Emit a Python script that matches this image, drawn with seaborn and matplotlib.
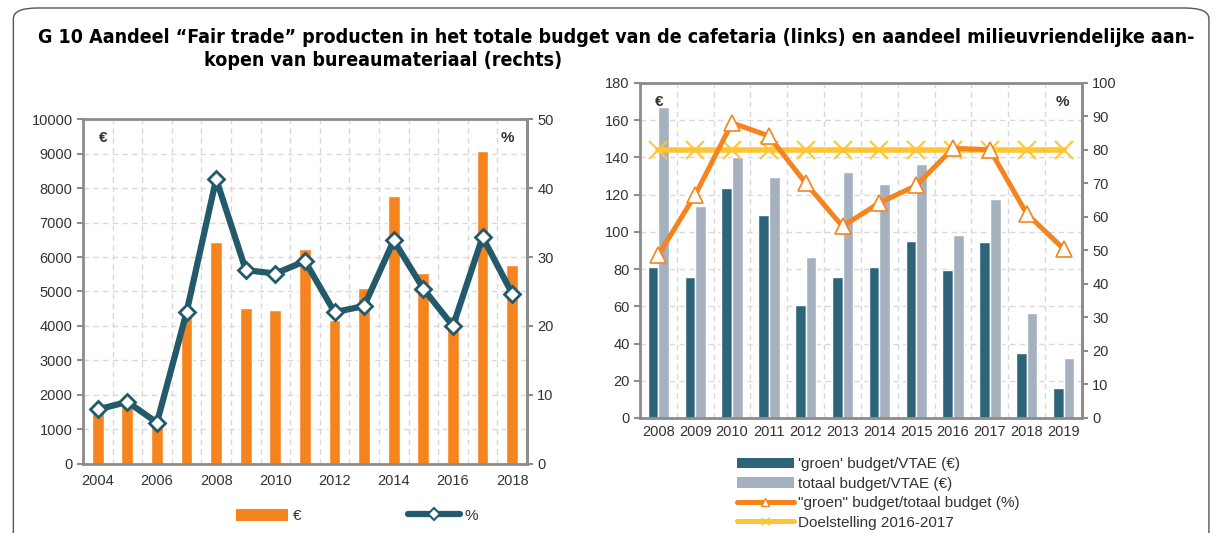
import matplotlib
matplotlib.use("Agg")
import matplotlib.pyplot as plt
from matplotlib.patches import FancyBboxPatch, Patch
from matplotlib.lines import Line2D
import numpy as np
import pandas as pd
import seaborn as sns

# left chart: fair trade share of cafetaria budget
years_l = [str(y) for y in range(2004, 2019)]
euro_l = [1600, 1700, 1200, 4460, 6430, 4530, 4460, 6220, 4170, 5110, 7770, 5550, 4280, 9070, 5770]
pct_l = [7.9, 9.0, 6.0, 22.0, 41.3, 28.1, 27.6, 29.4, 22.0, 22.9, 32.4, 25.4, 20.0, 32.9, 24.7]

# right chart: green purchases of office supplies
years_r = [str(y) for y in range(2008, 2020)]
groen_r = [81.1, 75.9, 123.6, 109.1, 60.9, 75.9, 81.1, 95.1, 79.7, 94.4, 34.9, 16.3]
totaal_r = [167.1, 113.9, 140.0, 129.5, 86.5, 132.2, 125.9, 136.4, 98.3, 117.8, 56.6, 32.0]
pct_r = [48.6, 66.6, 88.1, 84.2, 70.1, 57.2, 64.2, 69.4, 80.5, 80.1, 61.0, 50.5]
doel_r = [80] * 12

ORANGE = "#F5841F"
TEAL = "#235A6B"
DARK = "#2D6479"
GREY = "#A6B1BF"
YELLOW = "#FFC533"
SPINE = "#8C8C8C"
GRID = "#D9D9D9"
TXT = "#333333"

sns.set_style("white")
plt.rcParams["font.family"] = ["Liberation Sans", "DejaVu Sans"]
plt.rcParams["text.color"] = TXT
plt.rcParams["xtick.color"] = TXT
plt.rcParams["ytick.color"] = TXT

fig = plt.figure(figsize=(12.15, 5.33), dpi=100)

# frame round the whole figure
frame = FancyBboxPatch((0.011, -0.05), 0.984, 1.035, boxstyle="round,pad=0,rounding_size=0.02",
                       transform=fig.transFigure, fill=False, edgecolor="#555555", linewidth=1.0)
fig.patches.append(frame)

t1 = fig.text(0.031, 0.929, "G 10 Aandeel \u201cFair trade\u201d producten in het totale budget van de cafetaria (links) en aandeel milieuvriendelijke aan-",
              fontsize=13, fontweight="bold", color="black", va="center", ha="left",
              family="DejaVu Sans", fontstretch="condensed")
t2 = fig.text(0.168, 0.887, "kopen van bureaumateriaal (rechts)",
              fontsize=13, fontweight="bold", color="black", va="center", ha="left",
              family="DejaVu Sans", fontstretch="condensed")
# shrink/grow the title so its first line spans the same width as in the reference
renderer = fig.canvas.get_renderer()
w = t1.get_window_extent(renderer).width
size = min(13 * 1157 / w, 14)
t1.set_fontsize(size)
t2.set_fontsize(size)


def style_axes(ax, ax2, n):
    ax.set_xlim(-0.5, n - 0.5)
    ax.set_axisbelow(True)
    for s in ax.spines.values():
        s.set_color(SPINE)
        s.set_linewidth(2)
    for s in ax2.spines.values():
        s.set_visible(False)
    ax2.spines["right"].set_visible(True)
    ax2.spines["right"].set_color(SPINE)
    ax2.spines["right"].set_linewidth(2)
    ax.yaxis.grid(True, color=GRID, linestyle=(0, (4, 3)), linewidth=1)
    ax.set_xticks(np.arange(-0.5, n, 1.0), minor=True)
    ax.xaxis.grid(True, which="minor", color=GRID, linestyle=(0, (4, 3)), linewidth=1)
    ax.tick_params(axis="x", which="major", length=0, labelsize=10.5, pad=7)
    ax.tick_params(axis="x", which="minor", length=4, width=1.5, color=SPINE, direction="out")
    ax.tick_params(axis="y", length=4, width=1.5, color=SPINE, direction="out", labelsize=10.5, left=True)
    ax2.tick_params(axis="y", length=4, width=1.5, color=SPINE, direction="out", labelsize=10.5, right=True)
    ax.set_xlabel("")
    ax.set_ylabel("")
    ax2.set_xlabel("")
    ax2.set_ylabel("")
    ax.text(0.035, 0.965, "\u20ac", transform=ax.transAxes, fontsize=11, va="top", ha="left", fontweight="bold")
    ax2.text(0.97, 0.965, "%", transform=ax2.transAxes, fontsize=11, va="top", ha="right", fontweight="bold")


# ---- left chart
df_l = pd.DataFrame({"jaar": years_l, "euro": euro_l, "pct": pct_l})
axl = fig.add_axes([0.0683, 0.1295, 0.3654, 0.6472])
sns.barplot(data=df_l, x="jaar", y="euro", color=ORANGE, saturation=1, width=0.4, ax=axl)
axl.set_ylim(0, 10000)
axl.set_yticks(range(0, 10001, 1000))
axl2 = axl.twinx()
sns.lineplot(data=df_l, x="jaar", y="pct", color=TEAL, linewidth=4.5, marker="D", markersize=8,
             markerfacecolor="white", markeredgecolor=TEAL, markeredgewidth=2, ax=axl2)
axl2.set_ylim(0, 50)
axl2.set_yticks(range(0, 51, 10))
style_axes(axl, axl2, len(years_l))
axl.set_xticks(range(0, len(years_l), 2))
axl.set_xticklabels(years_l[::2])

h_l = [Patch(facecolor=ORANGE, edgecolor="none"),
       Line2D([], [], color=TEAL, linewidth=4.5, marker="D", markersize=6,
              markerfacecolor="white", markeredgecolor=TEAL, markeredgewidth=1.5)]
fig.legend(h_l, ["\u20ac", "%"], loc="center", bbox_to_anchor=(0.294, 0.032), ncol=2,
           frameon=False, fontsize=11, handlelength=3.4, handleheight=0.9, columnspacing=7.0,
           handletextpad=0.3)

# ---- right chart
df_r = pd.DataFrame({"jaar": years_r * 2,
                     "waarde": groen_r + totaal_r,
                     "reeks": ["'groen' budget/VTAE (\u20ac)"] * 12 + ["totaal budget/VTAE (\u20ac)"] * 12})
df_rp = pd.DataFrame({"jaar": years_r, "pct": pct_r, "doel": doel_r})
axr = fig.add_axes([0.5267, 0.2158, 0.3638, 0.6285])
sns.barplot(data=df_r, x="jaar", y="waarde", hue="reeks", palette=[DARK, GREY], saturation=1,
            width=0.58, gap=0, legend=False, ax=axr)
axr.set_ylim(0, 180)
axr.set_yticks(range(0, 181, 20))
axr2 = axr.twinx()
sns.lineplot(data=df_rp, x="jaar", y="doel", color=YELLOW, linewidth=4, marker="x", markersize=13,
             markeredgecolor=YELLOW, markeredgewidth=1.5, ax=axr2)
sns.lineplot(data=df_rp, x="jaar", y="pct", color=ORANGE, linewidth=3.6, marker="^", markersize=12,
             markerfacecolor="white", markeredgecolor=ORANGE, markeredgewidth=1.2, ax=axr2)
axr2.set_ylim(0, 100)
axr2.set_yticks(range(0, 101, 10))
style_axes(axr, axr2, len(years_r))
axr.tick_params(axis="x", which="major", labelsize=10.5, pad=5)

h_r = [Patch(facecolor=DARK, edgecolor="none"),
       Patch(facecolor=GREY, edgecolor="none"),
       Line2D([], [], color=ORANGE, linewidth=3.6, marker="^", markersize=6,
              markerfacecolor="white", markeredgecolor=ORANGE),
       Line2D([], [], color=YELLOW, linewidth=3.6, marker="x", markersize=6,
              markeredgecolor=YELLOW)]
fig.legend(h_r, ["'groen' budget/VTAE (\u20ac)", "totaal budget/VTAE (\u20ac)",
                 "\"groen\" budget/totaal budget (%)", "Doelstelling 2016-2017"],
           loc="upper left", bbox_to_anchor=(0.6066, 0.142), frameon=False, fontsize=11,
           handlelength=3.7, handleheight=0.7, handletextpad=0.3, labelspacing=0.36,
           borderaxespad=0, borderpad=0)

fig.savefig("out.png", dpi=100)
